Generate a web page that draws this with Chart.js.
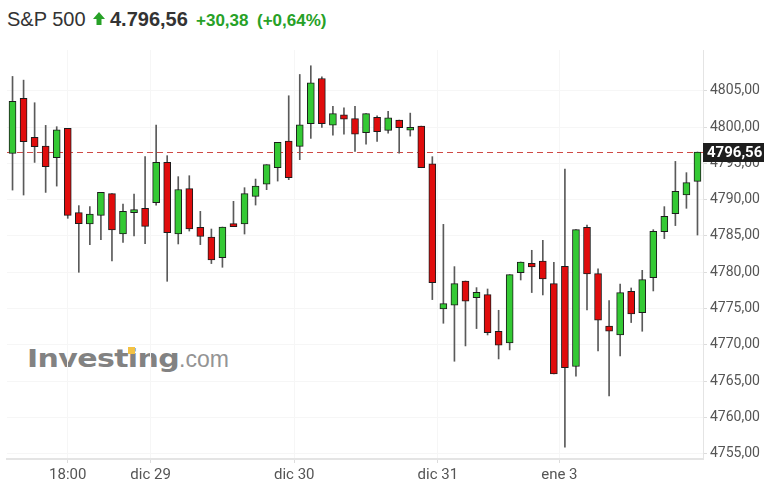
<!DOCTYPE html>
<html>
<head>
<meta charset="utf-8">
<script src="https://cdn.jsdelivr.net/npm/chart.js@4.4.1/dist/chart.umd.min.js"></script>
<style>
  body { margin: 0; background: #fff; }
  #wrap { position: relative; width: 777px; height: 492px; overflow: hidden; }
  #chart { position: absolute; left: 0; top: 0; z-index: 2; }
  .hd { position: absolute; top: 4px; line-height: 30px; font-family: "Liberation Sans", Arial, sans-serif; white-space: nowrap; }
  .logo { position: absolute; z-index: 1; white-space: nowrap; }
</style>
</head>
<body>
<div id="wrap">
  <span class="hd" style="left:7px;font-size:20px;color:#333;">S&amp;P 500</span>
  <svg style="position:absolute;left:93px;top:12px;" width="12" height="14" viewBox="0 0 12 14">
    <polygon points="6,0 12,7 8.5,7 8.5,13 3.5,13 3.5,7 0,7" fill="#27a127"/>
  </svg>
  <span class="hd" style="left:110px;font-size:20px;font-weight:bold;color:#333;">4.796,56</span>
  <span class="hd" style="left:196px;top:6px;font-size:17px;font-weight:bold;color:#27a127;">+30,38</span>
  <span class="hd" style="left:257px;top:6px;font-size:17px;font-weight:bold;color:#27a127;">(+0,64%)</span>

  <span class="logo" style="left:27px;top:347px;font-family:'DejaVu Sans';font-weight:bold;font-size:24px;line-height:24px;color:#828282;letter-spacing:-0.5px;transform:scaleX(1.25);transform-origin:left top;">Investing</span>
  <div class="logo" style="left:128px;top:347px;width:7px;height:7px;background:#f3c244;"></div>
  <span class="logo" style="left:179px;top:348px;font-family:'Liberation Sans',Arial;font-size:23px;line-height:23px;color:#949494;">.com</span>

  <canvas id="chart" width="777" height="492"></canvas>
</div>
<script>
// 30 minute candles, S&P 500
const opens  = [4796.37, 4803.94, 4798.57, 4797.38, 4795.78, 4799.81, 4788.21, 4786.65, 4787.84, 4790.83,
                4785.27, 4788.21, 4788.81, 4789.59, 4795.13, 4785.27, 4791.52, 4786.19, 4784.86, 4782.02,
                4786.70, 4786.65, 4790.46, 4792.15, 4794.40, 4798.07, 4797.33, 4800.46, 4806.69, 4800.27,
                4801.70, 4801.15, 4799.22, 4801.33, 4799.54, 4800.96, 4799.58, 4800.13, 4794.95, 4774.95,
                4775.46, 4778.80, 4776.52, 4776.93, 4771.88, 4770.28, 4779.96, 4781.24, 4781.56, 4778.44,
                4780.83, 4767.03, 4786.19, 4779.82, 4772.61, 4771.37, 4777.39, 4774.45, 4779.27, 4785.60,
                4788.08, 4790.64, 4792.52];
const highs  = [4806.97, 4806.46, 4803.35, 4800.23, 4800.05, 4799.81, 4789.18, 4789.04, 4791.00, 4790.83,
                4789.40, 4790.77, 4795.92, 4800.27, 4796.06, 4793.17, 4793.30, 4788.39, 4785.96, 4786.23,
                4789.77, 4791.65, 4792.84, 4794.82, 4797.89, 4804.31, 4807.24, 4808.44, 4806.93, 4802.84,
                4802.66, 4802.84, 4801.84, 4801.56, 4802.15, 4800.96, 4801.92, 4800.13, 4795.92, 4786.60,
                4780.78, 4778.80, 4777.89, 4777.70, 4774.77, 4779.68, 4781.42, 4783.03, 4784.40, 4781.38,
                4794.22, 4785.87, 4786.51, 4780.46, 4776.11, 4778.39, 4777.84, 4780.27, 4785.87, 4789.04,
                4795.27, 4793.72, 4796.56];
const lows   = [4791.32, 4790.64, 4795.13, 4791.00, 4791.87, 4787.43, 4780.00, 4783.81, 4784.50, 4781.56,
                4784.13, 4785.00, 4783.95, 4789.26, 4778.76, 4783.90, 4785.68, 4783.81, 4781.20, 4780.69,
                4786.29, 4785.27, 4789.26, 4791.38, 4792.56, 4792.75, 4795.51, 4798.44, 4799.95, 4798.89,
                4799.03, 4796.65, 4797.65, 4798.02, 4799.17, 4796.41, 4798.75, 4794.40, 4776.24, 4772.98,
                4767.75, 4769.86, 4772.25, 4771.37, 4768.07, 4769.31, 4778.94, 4777.21, 4776.88, 4766.01,
                4755.92, 4765.69, 4774.81, 4769.17, 4762.98, 4768.48, 4773.08, 4771.88, 4777.43, 4784.64,
                4786.43, 4788.81, 4785.13];
const closes = [4803.53, 4797.98, 4797.29, 4794.54, 4799.63, 4787.84, 4786.70, 4788.02, 4791.00, 4785.82,
                4788.39, 4788.63, 4786.33, 4795.13, 4785.45, 4791.40, 4785.96, 4784.95, 4781.69, 4786.23,
                4786.29, 4790.83, 4791.87, 4794.82, 4797.89, 4793.03, 4800.32, 4806.10, 4800.46, 4801.84,
                4801.09, 4799.03, 4801.84, 4799.36, 4801.28, 4799.91, 4799.95, 4794.40, 4778.58, 4775.69,
                4778.44, 4776.01, 4777.25, 4771.70, 4769.96, 4779.68, 4781.42, 4780.73, 4779.08, 4766.01,
                4766.88, 4785.87, 4779.77, 4773.40, 4771.88, 4777.21, 4774.27, 4779.00, 4785.64, 4787.70,
                4791.14, 4792.34, 4796.56];

// x axis labels (candle index where each label sits)
const tickIdx    = [5, 12.5, 25.5, 38.5, 49.5];
const tickLabels = ["18:00", "dic 29", "dic 30", "dic 31", "ene 3"];
const yTicks = [4755, 4760, 4765, 4770, 4775, 4780, 4785, 4790, 4795, 4800, 4805];
const lastPrice = closes[closes.length - 1];

const fmt = v => v.toFixed(2).replace(".", ",");

const up = "#34c934";
const down = "#e00c0c";

const bodies = opens.map((o, i) => ({ x: i, y: [o, closes[i]] }));
const wicks = highs.map((h, i) => ({ x: i, y: [lows[i], h] }));
const bodyColors = opens.map((o, i) => closes[i] >= o ? up : down);

// dashed line + black price box for the last close
const priceLine = {
  id: "priceLine",
  beforeDatasetsDraw(chart) {
    const { ctx, chartArea, scales } = chart;
    const py = Math.round(scales.y.getPixelForValue(lastPrice)) + 0.5;
    ctx.save();
    ctx.strokeStyle = "#cf4a46";
    ctx.lineWidth = 1;
    ctx.setLineDash([6, 4]);
    ctx.beginPath();
    ctx.moveTo(chartArea.left, py);
    ctx.lineTo(chartArea.right, py);
    ctx.stroke();
    ctx.restore();
  },
  afterDraw(chart) {
    const { ctx, chartArea, scales } = chart;
    const py = Math.round(scales.y.getPixelForValue(lastPrice));
    ctx.save();
    ctx.fillStyle = "#1e1e1e";
    ctx.fillRect(chartArea.right, py - 9, 61, 19);
    ctx.fillStyle = "#fff";
    ctx.font = "bold 15px Roboto";
    ctx.textBaseline = "middle";
    ctx.fillText(fmt(lastPrice), chartArea.right + 4, py + 1);
    ctx.restore();
  }
};

Chart.defaults.font.family = "Roboto";

new Chart(document.getElementById("chart"), {
  type: "bar",
  data: {
    datasets: [
      {
        label: "wick",
        data: wicks,
        backgroundColor: "#5a5a5a",
        barThickness: 1,
        grouped: false,
        order: 2
      },
      {
        label: "body",
        data: bodies,
        backgroundColor: bodyColors,
        borderColor: "#1c1c1c",
        borderWidth: 1,
        borderSkipped: false,
        barThickness: 7,
        grouped: false,
        order: 1
      }
    ]
  },
  options: {
    responsive: false,
    animation: false,
    devicePixelRatio: 1,
    layout: { padding: { left: 7, top: 50, right: 0, bottom: 0 } },
    plugins: { legend: { display: false }, tooltip: { enabled: false } },
    scales: {
      x: {
        type: "linear",
        offset: false,
        min: -0.5,
        max: 62.5,
        afterBuildTicks: scale => { scale.ticks = tickIdx.map(v => ({ value: v })); },
        afterFit: scale => { scale.height = 33; },
        ticks: {
          callback: (v, i) => tickLabels[i],
          color: "#555",
          font: { size: 15 },
          padding: 3,
          maxRotation: 0,
          autoSkip: false
        },
        grid: { offset: false, color: "#f6f6f6", tickColor: "#dcdcdc", tickLength: 4 },
        border: { color: "#e4e4e4", width: 2 }
      },
      y: {
        position: "right",
        min: 4754.29,
        max: 4810.61,
        afterBuildTicks: scale => { scale.ticks = yTicks.map(v => ({ value: v })); },
        afterFit: scale => { scale.width = 74; },
        ticks: {
          callback: v => fmt(v),
          color: "#555",
          font: { size: 14 },
          padding: 3
        },
        grid: { color: "#f6f6f6", tickColor: "#dcdcdc", tickLength: 4 },
        border: { color: "#e4e4e4" }
      }
    }
  },
  plugins: [priceLine]
});
</script>
</body>
</html>
